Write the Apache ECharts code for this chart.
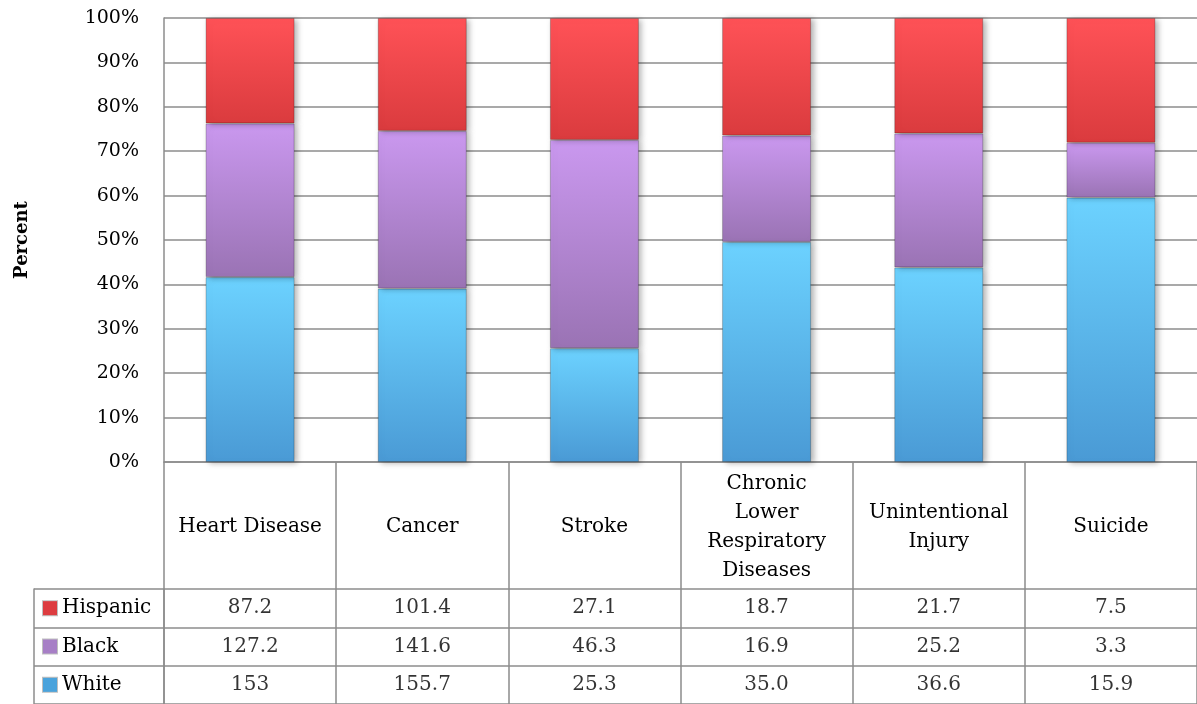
<!DOCTYPE html>
<html>
<head>
<meta charset="utf-8">
<script src="https://cdn.jsdelivr.net/npm/echarts@6/dist/echarts.min.js"></script>
<style>
  html, body { margin: 0; padding: 0; background: #fff; }
  #chart { width: 1197px; height: 704px; }
</style>
</head>
<body>
<div id="chart"></div>
<script>
const categories = ['Heart Disease', 'Cancer', 'Stroke', 'Chronic Lower Respiratory Diseases', 'Unintentional Injury', 'Suicide'];
const categoryLabels = ['Heart Disease', 'Cancer', 'Stroke', 'Chronic\nLower\nRespiratory\nDiseases', 'Unintentional\nInjury', 'Suicide'];
const hispanic = ['87.2', '101.4', '27.1', '18.7', '21.7', '7.5'];
const black = ['127.2', '141.6', '46.3', '16.9', '25.2', '3.3'];
const white = ['153', '155.7', '25.3', '35.0', '36.6', '15.9'];
const seriesNames = ['White', 'Black', 'Hispanic'];
const yTickMin = 0, yTickMax = 100, yTickStep = 10;

const FONT = 'DejaVu Serif';
const raw = { White: white, Black: black, Hispanic: hispanic };
const totals = categories.map((_, i) => Number(white[i]) + Number(black[i]) + Number(hispanic[i]));
const pct = name => raw[name].map((v, i) => Number(v) / totals[i] * 100);

const palette = {
  White: { top: '#6cd2ff', bottom: '#4a9ad5', swatch: '#4aa3dc' },
  Black: { top: '#ca98ef', bottom: '#9a73b4', swatch: '#a77fc6' },
  Hispanic: { top: '#ff5257', bottom: '#da3b3e', swatch: '#dd3c40' }
};
const grad = c => new echarts.graphic.LinearGradient(0, 0, 0, 1, [
  { offset: 0, color: c.top }, { offset: 1, color: c.bottom }
]);

const gridColor = '#8c8c8c';

const barSeries = seriesNames.map(name => ({
  name: name,
  type: 'bar',
  stack: 'total',
  xAxisIndex: 0,
  yAxisIndex: 0,
  barWidth: 89,
  data: pct(name),
  itemStyle: {
    color: grad(palette[name]),
    borderColor: 'rgba(0,0,0,0.22)',
    borderWidth: 1,
    shadowColor: 'rgba(0,0,0,0.30)',
    shadowBlur: 6,
    shadowOffsetX: 3,
    shadowOffsetY: 1
  }
}));

const cellData = [];
seriesNames.forEach(name => {
  raw[name].forEach((txt, i) => cellData.push([categories[i], name, txt]));
});

const richLegend = {
  t: { fontFamily: FONT, fontSize: 20, color: '#000', padding: [0, 0, 0, 5] }
};
seriesNames.forEach(name => {
  richLegend['sq' + name] = {
    width: 14, height: 14,
    backgroundColor: palette[name].swatch,
    borderColor: 'rgba(0,0,0,0.25)', borderWidth: 1
  };
});

const option = {
  animation: false,
  backgroundColor: '#fff',
  textStyle: { fontFamily: FONT },
  grid: [
    { left: 164, top: 18, width: 1039, height: 444 },
    { left: 164, top: 589, width: 1039, height: 117 }
  ],
  xAxis: [
    {
      type: 'category', gridIndex: 0, data: categories,
      axisLine: { show: true, lineStyle: { color: gridColor, width: 1.5 } },
      axisTick: { show: true, length: 245, lineStyle: { color: gridColor, width: 1.5 } },
      axisLabel: {
        interval: 0, margin: 65, verticalAlign: 'middle', align: 'center',
        lineHeight: 29, fontFamily: FONT, fontSize: 20, color: '#000',
        formatter: (v) => categoryLabels[categories.indexOf(v)]
      }
    },
    {
      type: 'category', gridIndex: 1, data: categories,
      axisLine: { show: false }, axisTick: { show: false }, axisLabel: { show: false },
      splitLine: { show: false }
    }
  ],
  yAxis: [
    {
      type: 'value', gridIndex: 0, min: yTickMin, max: yTickMax, interval: yTickStep,
      axisLine: { show: true, lineStyle: { color: gridColor, width: 1.5 } },
      axisTick: { show: false },
      splitLine: { show: true, lineStyle: { color: gridColor, width: 1.5 } },
      axisLabel: { formatter: '{value}%', margin: 25, fontFamily: FONT, fontSize: 19, color: '#000' },
      name: 'Percent', nameLocation: 'middle', nameGap: 133, nameRotate: 90,
      nameTextStyle: { fontFamily: FONT, fontWeight: 'bold', fontSize: 18, color: '#000' }
    },
    {
      type: 'category', gridIndex: 1, data: seriesNames,
      axisLine: { show: true, lineStyle: { color: gridColor, width: 1.5 } },
      axisTick: { show: true, length: 130, lineStyle: { color: gridColor, width: 1.5 } },
      splitLine: { show: true, lineStyle: { color: gridColor, width: 1.5 } },
      axisLabel: {
        align: 'left', margin: 121, verticalAlign: 'middle',
        formatter: v => '{sq' + v + '|}{t|' + v + '}',
        rich: richLegend
      }
    },
    {
      type: 'category', gridIndex: 1, data: seriesNames, position: 'left', offset: 130,
      axisLine: { show: true, lineStyle: { color: gridColor, width: 1.5 } },
      axisTick: { show: false }, axisLabel: { show: false }, splitLine: { show: false }
    }
  ],
  series: barSeries.concat([{
    type: 'scatter',
    xAxisIndex: 1,
    yAxisIndex: 1,
    data: cellData,
    symbol: 'rect',
    symbolSize: 1,
    itemStyle: { color: 'transparent' },
    label: {
      show: true, position: 'inside',
      formatter: p => p.value[2],
      fontFamily: FONT, fontSize: 20, color: '#000'
    },
    silent: true
  }])
};

const chart = echarts.init(document.getElementById('chart'), null, { renderer: 'canvas' });
chart.setOption(option);
</script>
</body>
</html>
